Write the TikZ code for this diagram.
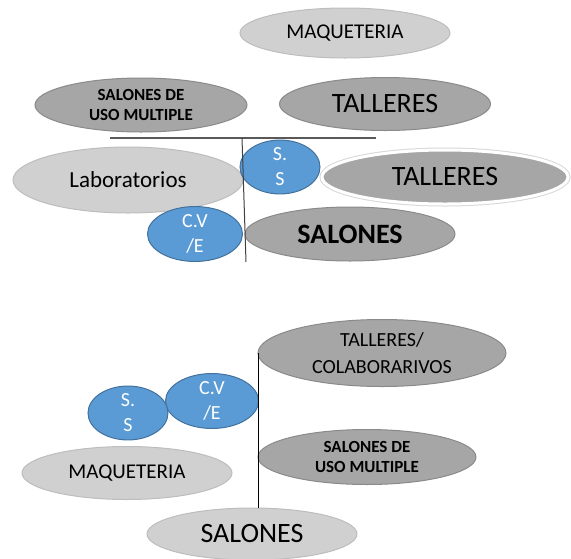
\documentclass[tikz,border=0pt]{standalone}
\usepackage{fontspec}
\setmainfont{Carlito}
\usepackage{xcolor}
\usepackage{tikz}
\usetikzlibrary{shapes.geometric}
\definecolor{lightblob}{HTML}{D0D0D0}
\definecolor{lightedge}{HTML}{BDBDBD}
\definecolor{darkblob}{HTML}{A6A6A6}
\definecolor{darkedge}{HTML}{8A8A8A}
\definecolor{blueblob}{HTML}{5B9BD5}
\definecolor{blueedge}{HTML}{41719C}
\tikzstyle{every node}=[ellipse,inner sep=0pt,align=center,line width=1pt]
\tikzstyle{light}=[fill=lightblob,draw=lightedge]
\tikzstyle{dark}=[fill=darkblob,draw=darkedge]
\tikzstyle{small}=[fill=blueblob,draw=blueedge,text=white,font=\fontsize{20}{25}\selectfont,minimum width=80pt,minimum height=47pt]
\tikzstyle{usm}=[dark,font=\bfseries\fontsize{17}{20}\selectfont]

\begin{document}
\begin{tikzpicture}[x=1pt,y=-1pt]
	\useasboundingbox (0,0) rectangle (571,558);
	% upper plan
	\node[light,minimum width=210pt,minimum height=50pt,font=\fontsize{21}{25}\selectfont] (maq1) at (345,33) {MAQUETERIA};
	\node[usm,minimum width=212pt,minimum height=54pt] (usm1) at (141,105) {SALONES DE\\USO MULTIPLE};
	\node[dark,minimum width=211pt,minimum height=53pt,font=\fontsize{28}{30}\selectfont] (tal1) at (385,104) {TALLERES};
	\node[light,minimum width=230pt,minimum height=66pt,font=\fontsize{23}{26}\selectfont] (lab) at (128,180) {Laboratorios};
	\node[small] (ss1) at (280,167) {S.\\S};
	\node[fill=darkblob,draw=white,line width=3pt,preaction={draw=lightedge!60,line width=5pt},
		minimum width=246pt,minimum height=54pt,font=\fontsize{28}{30}\selectfont] (tal2) at (445,177) {TALLERES};
	\node[small,minimum width=95pt,minimum height=48pt] (cve1) at (195,234) {C.V\\/E};
	\node[dark,minimum width=210pt,minimum height=54pt,font=\bfseries\fontsize{28}{30}\selectfont] (sal1) at (350,234) {SALONES};
	\coordinate (hl) at (110,138);
	\coordinate (hr) at (376,138);
	\coordinate (vt) at (242,138);
	\coordinate (vb) at (246,262);
	\draw[black!65,line width=1.5pt] (hl) -- (hr);
	\draw[black!75,line width=1pt] (vt) -- (vb);
	% lower plan
	\node[dark,minimum width=248pt,minimum height=67pt,font=\fontsize{20}{27}\selectfont] (tal3) at (382,353) {TALLERES/\\COLABORARIVOS};
	\node[small,minimum width=93pt,minimum height=47pt] (cve2) at (212,401) {C.V\\/E};
	\node[small] (ss2) at (128,413) {S.\\S};
	\node[usm,minimum width=218pt,minimum height=55pt] (usm2) at (367,457) {SALONES DE\\USO MULTIPLE};
	\node[light,minimum width=210pt,minimum height=53pt,font=\fontsize{21}{25}\selectfont] (maq2) at (127,473) {MAQUETERIA};
	\node[light,minimum width=210pt,minimum height=52pt,font=\fontsize{28}{30}\selectfont] (sal2) at (252,534) {SALONES};
	\coordinate (lt) at (258,353);
	\coordinate (lb) at (258,508);
	\draw[black,line width=1pt] (lt) -- (lb);
\end{tikzpicture}
\end{document}
